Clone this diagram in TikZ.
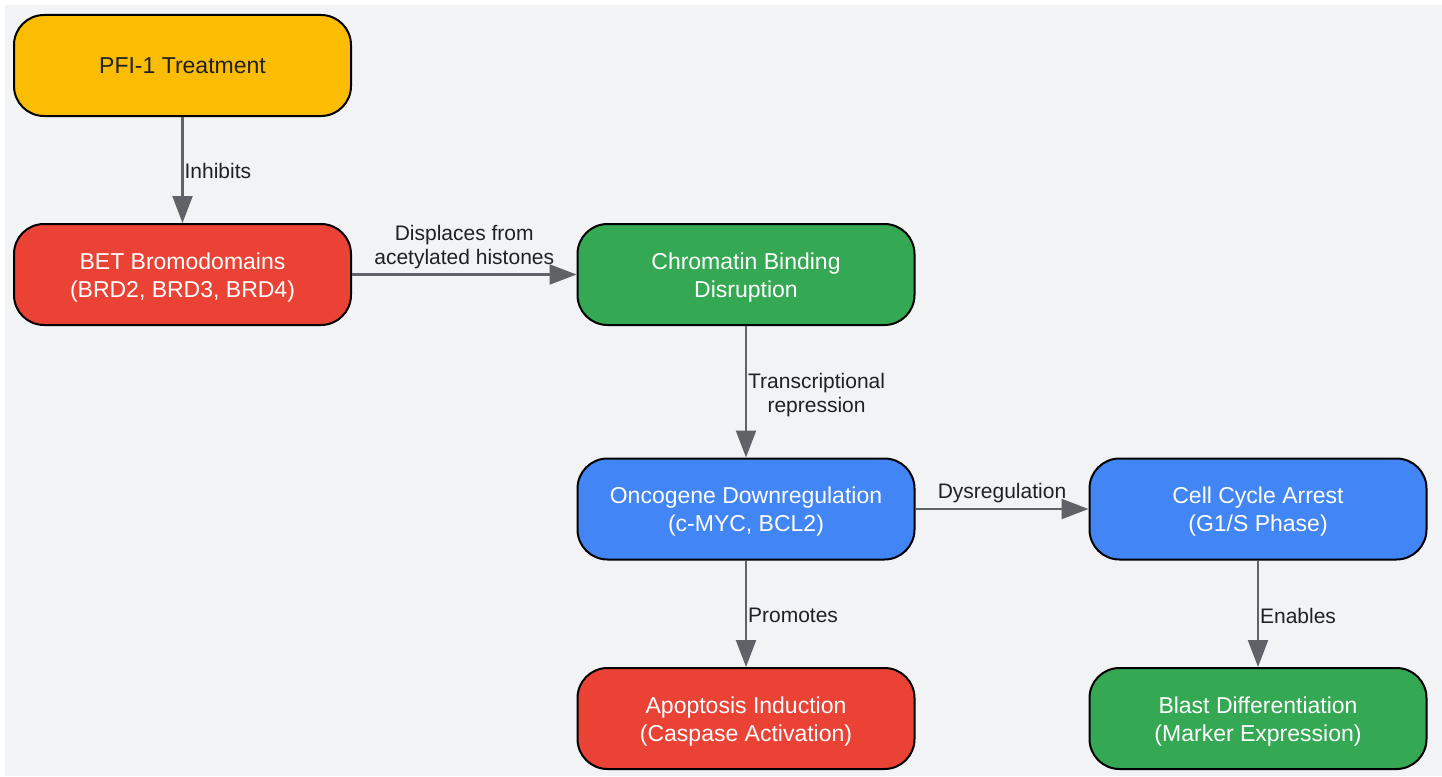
\documentclass[tikz,border=0pt]{standalone}
\usepackage{fontspec}
\setmainfont{Liberation Sans}
\usetikzlibrary{arrows.meta}
\definecolor{bgc}{HTML}{F1F3F5}
\definecolor{cyel}{HTML}{FBBC04}
\definecolor{cred}{HTML}{EA4335}
\definecolor{cgrn}{HTML}{34A853}
\definecolor{cblu}{HTML}{4285F4}
\definecolor{cedge}{HTML}{5F6368}
\definecolor{ctxt}{HTML}{202124}
\tikzset{
  box/.style={draw=black, line width=2pt, rounded corners=30pt, minimum width=337pt, minimum height=101pt, inner sep=0pt, align=center, text=white, font=\fontsize{23}{28}\selectfont},
  boxtxt/.style={align=center, text=white, inner sep=0pt, yshift=-3pt, font=\fontsize{23}{28}\selectfont},
  conn/.style={draw=cedge, line width=2.2pt, -{Triangle[width=20pt,length=27pt]}},
  lab/.style={text=ctxt, font=\fontsize{21}{24}\selectfont, align=center, inner sep=2pt},
  rlab/.style={lab, right, inner sep=1pt, yshift=-2pt},
}
\begin{document}
\begin{tikzpicture}[x=1pt,y=-1pt]
\useasboundingbox (0,0) rectangle (1442,776);
\fill[bgc] (5,5) rectangle (1442,776);
\node[box, fill=cyel, text=ctxt] (pfi) at (182.5,65.5) {PFI-1 Treatment};
\node[box, fill=cred, label={[boxtxt]center:{BET Bromodomains\\(BRD2, BRD3, BRD4)}}] (bet) at (182.5,274.5) {};
\node[box, fill=cgrn, label={[boxtxt]center:{Chromatin Binding\\Disruption}}] (chr) at (746,274.5) {};
\node[box, fill=cblu, label={[boxtxt]center:{Oncogene Downregulation\\(c-MYC, BCL2)}}] (onc) at (746,509) {};
\node[box, fill=cblu, label={[boxtxt]center:{Cell Cycle Arrest\\(G1/S Phase)}}] (cell) at (1258,509) {};
\node[box, fill=cred, label={[boxtxt]center:{Apoptosis Induction\\(Caspase Activation)}}] (apo) at (746,718.5) {};
\node[box, fill=cgrn, label={[boxtxt]center:{Blast Differentiation\\(Marker Expression)}}] (bla) at (1258,718.5) {};
\draw[conn] (pfi) -- node[rlab, yshift=1pt] (l1) {Inhibits} (bet);
\draw[conn] (bet) -- node[lab, above=3pt] (l2) {Displaces from\\acetylated histones} (chr);
\draw[conn] (chr) -- node[rlab, yshift=-1pt] (l3) {Transcriptional\\repression} (onc);
\draw[conn] (onc) -- node[lab, above=3pt] (l4) {Dysregulation} (cell);
\draw[conn] (onc) -- node[rlab] (l5) {Promotes} (apo);
\draw[conn] (cell) -- node[rlab] (l6) {Enables} (bla);
\end{tikzpicture}
\end{document}
